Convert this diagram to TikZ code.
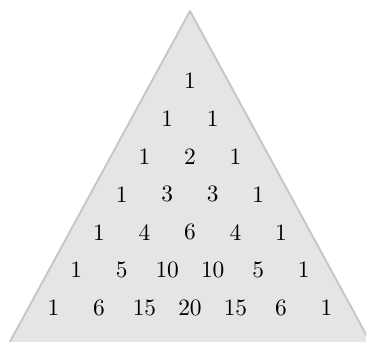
\documentclass[tikz,border=0pt]{standalone}
\usepackage{tikz}

\begin{document}
\begin{tikzpicture}[
    x=0.015cm, y=-0.015cm,
    tri/.style={draw=gray!45, fill=gray!20, line width=0.8pt, line join=round},
    num/.style={font=\normalsize, inner sep=1pt},
]
\useasboundingbox (0,0) rectangle (366,342);
\clip (0,0) rectangle (366,342);

% Triangle
\coordinate (apex) at (190,11);
\coordinate (bl) at (0,360);
\coordinate (br) at (380,360);
\draw[tri] (apex) -- (br) -- (bl) -- cycle;

% Rows of numbers
\foreach \vals [count=\r] in {{1},{1,1},{1,2,1},{1,3,3,1},{1,4,6,4,1},{1,5,10,10,5,1},{1,6,15,20,15,6,1}} {
    \foreach \v [count=\k] in \vals
        \node[num] (n\r-\k) at ({190+(\k-(\r+1)/2)*45.5}, {80.7+(\r-1)*37.9}) {\v};
}

\end{tikzpicture}
\end{document}
